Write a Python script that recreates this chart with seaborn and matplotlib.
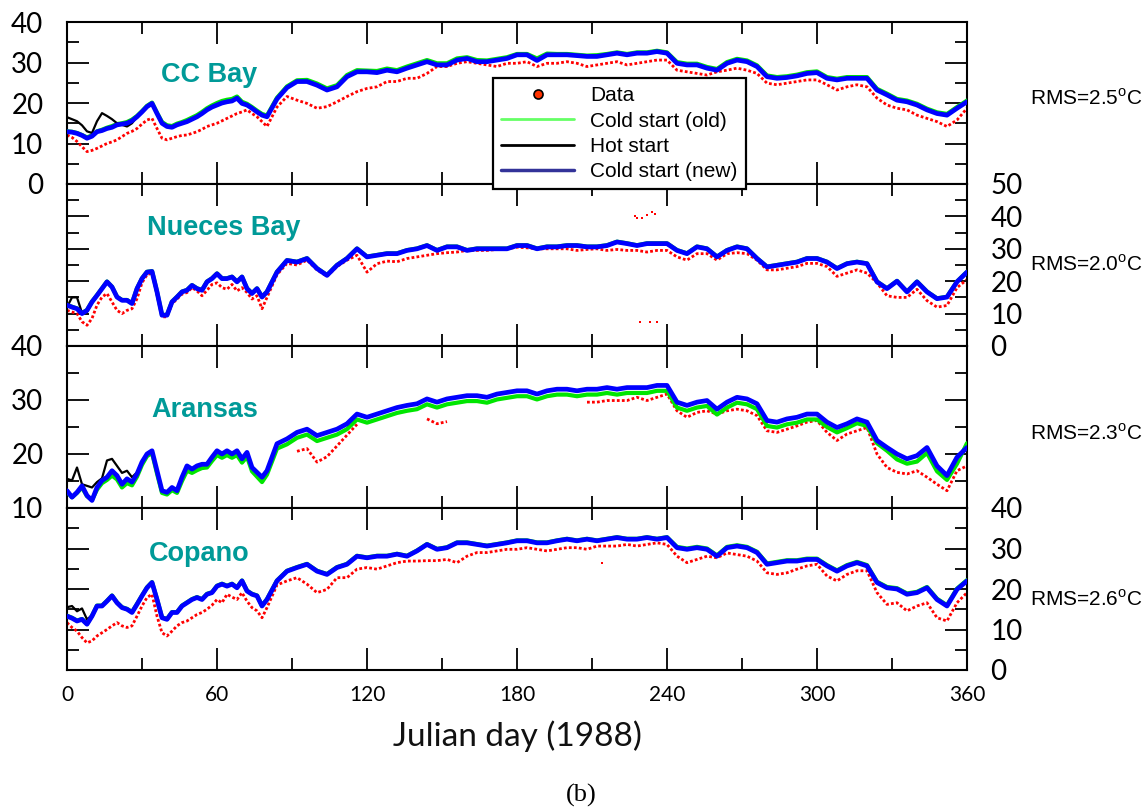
import numpy as np
import pandas as pd
import matplotlib
matplotlib.use("Agg")
import matplotlib.pyplot as plt
from matplotlib.lines import Line2D
from matplotlib.ticker import MultipleLocator
import seaborn as sns

NA = np.nan

# ---------------- data ----------------
DAYS = list(range(0, 81, 2)) + list(range(84, 361, 4))
HOT_DAYS = list(range(0, 41, 2))

PANELS = ["CC Bay", "Nueces Bay", "Aransas", "Copano"]
RMS = ["2.5", "2.0", "2.3", "2.6"]
LEGEND_LABELS = ["Data", "Cold start (old)", "Hot start", "Cold start (new)"]
X_TICKS = [0, 60, 120, 180, 240, 300, 360]

# CC Bay
CC_NEW = [12.9, 12.8, 12.5, 12.0, 11.3, 11.8, 12.9, 13.2, 13.7, 14.0,
          14.6, 14.8, 15.0, 15.6, 16.6, 17.8, 19.1, 19.9, 17.4, 15.0,
          14.2, 14.0, 14.6, 15.0, 15.4, 16.0, 16.6, 17.4, 18.3, 19.0,
          19.5, 20.0, 20.3, 20.5, 21.2, 19.9, 19.5, 18.7, 17.8, 17.0,
          16.6] + \
         [21.0, 23.8, 25.3, 25.3, 24.4, 23.2, 24.0, 26.5, 27.7, 27.7,
          27.5, 28.1, 27.7, 28.6, 29.4, 30.2, 29.4, 29.4, 30.6, 31.0,
          30.2, 30.2, 30.6, 31.0, 31.9, 31.9, 30.5, 31.9, 31.9, 31.9,
          31.7, 31.5, 31.5, 31.9, 32.3, 31.9, 32.3, 32.3, 32.7, 32.3,
          29.8, 29.4, 29.4, 28.6, 28.1, 29.8, 30.6, 30.2, 29.0, 26.5,
          26.1, 26.3, 26.7, 27.3, 27.5, 26.1, 25.7, 26.1, 26.1, 26.1,
          23.2, 22.0, 20.7, 20.3, 19.5, 18.3, 17.4, 17.0, 18.7, 20.3]
CC_OLD = [13.0, 12.9, 12.6, 12.1, 11.5, 12.0, 13.0, 13.4, 13.9, 14.3,
          14.8, 15.0, 15.3, 15.9, 16.8, 18.0, 19.3, 20.1, 17.6, 15.3,
          14.5, 14.3, 14.9, 15.3, 15.8, 16.4, 17.0, 17.8, 18.7, 19.4,
          20.0, 20.5, 20.8, 21.0, 21.6, 20.3, 19.8, 19.0, 18.1, 17.3,
          16.9] + \
         [21.3, 24.1, 25.6, 25.7, 24.8, 23.6, 24.4, 26.9, 28.1, 28.0,
          27.9, 28.5, 28.1, 29.0, 29.8, 30.6, 29.8, 29.8, 31.0, 31.3,
          30.6, 30.5, 30.9, 31.3, 32.1, 32.1, 31.0, 32.2, 32.1, 32.1,
          31.9, 31.7, 31.8, 32.1, 32.5, 32.1, 32.5, 32.5, 32.9, 32.5,
          30.1, 29.7, 29.7, 28.9, 28.4, 30.1, 30.9, 30.5, 29.3, 26.8,
          26.4, 26.6, 27.0, 27.6, 27.8, 26.4, 26.0, 26.4, 26.4, 26.4,
          23.5, 22.3, 21.0, 20.6, 19.8, 18.6, 17.7, 17.3, 19.0, 20.6]
CC_DATA = [12.1, 11.5, 10.5, 9.2, 8.0, 8.3, 8.8, 9.4, 10.0, 10.4,
           10.9, 11.7, 12.5, 13.0, 13.7, 14.8, 15.8, 16.2, 13.7, 11.3,
           10.9, 11.3, 11.7, 12.0, 12.1, 12.5, 12.9, 13.5, 14.2, 14.6,
           15.0, 15.6, 16.2, 16.8, 17.4, 17.8, 18.3, 17.4, 16.6, 15.4,
           14.2] + \
          [19.0, 21.6, 20.7, 19.9, 18.7, 19.1, 20.3, 21.6, 22.8, 23.6,
           24.0, 25.3, 25.3, 26.1, 26.1, 27.3, 29.0, 29.0, 29.8, 30.2,
           29.8, 29.4, 29.0, 29.8, 29.8, 30.2, 29.0, 29.8, 29.8, 30.2,
           29.8, 29.0, 29.4, 29.8, 30.2, 29.4, 29.8, 30.2, 30.6, 30.6,
           28.1, 27.7, 27.3, 26.9, 27.7, 28.1, 28.6, 28.1, 27.3, 24.9,
           24.5, 24.9, 25.3, 25.7, 25.7, 24.5, 23.2, 24.0, 24.5, 24.0,
           21.2, 19.5, 18.7, 18.3, 17.0, 16.2, 15.4, 14.2, 15.8, 18.7]
CC_HOT = [16.5, 16.0, 15.5, 14.5, 13.0, 12.6, 15.5, 17.5, 16.8, 16.0,
          15.0, 14.6, 14.2, 15.0, 16.6, 17.8, 19.1, 19.9, 17.4, 15.0,
          14.2]

# Nueces Bay
NU_NEW = [12.6, 12.0, 11.5, 10.0, 11.0, 13.6, 15.6, 17.7, 19.8, 18.2,
          15.1, 14.1, 14.1, 13.1, 17.7, 20.8, 22.8, 23.0, 16.7, 9.5,
          9.5, 13.6, 15.1, 16.7, 17.2, 18.7, 17.7, 17.2, 19.8, 20.8,
          22.3, 20.8, 20.8, 21.3, 19.8, 21.3, 17.7, 16.2, 17.7, 15.1,
          16.7] + \
         [22.8, 26.4, 25.9, 27.0, 23.9, 21.8, 24.9, 27.0, 30.0, 27.5,
          28.0, 28.5, 28.5, 29.5, 30.0, 31.0, 29.5, 30.6, 30.6, 29.5,
          30.0, 30.0, 30.0, 30.0, 31.0, 31.0, 30.0, 30.6, 30.6, 31.0,
          31.0, 30.6, 30.6, 31.0, 32.1, 31.6, 31.0, 31.6, 31.6, 31.6,
          29.5, 28.5, 30.6, 30.0, 27.5, 29.5, 30.6, 30.0, 27.0, 24.4,
          24.9, 25.4, 25.9, 27.0, 27.0, 25.9, 23.9, 25.4, 25.9, 25.4,
          19.8, 17.7, 20.0, 16.7, 19.8, 16.7, 14.6, 15.1, 19.8, 22.8]
NU_OLD = [12.7, 12.1, 11.6, 10.2, 11.1, 13.7, 15.7, 17.8, 19.9, 18.3,
          15.2, 14.2, 14.2, 13.2, 17.8, 20.9, 22.9, 23.1, 16.8, 9.6,
          9.6, 13.7, 15.2, 16.8, 17.3, 18.8, 17.8, 17.3, 19.9, 20.9,
          22.4, 20.9, 20.9, 21.4, 19.9, 21.4, 17.8, 16.3, 17.8, 15.2,
          16.8] + \
         [22.9, 26.5, 26.0, 27.1, 24.0, 21.9, 25.0, 27.1, 30.1, 27.6,
          28.1, 28.6, 28.6, 29.6, 30.1, 31.1, 29.6, 30.7, 30.7, 29.6,
          30.1, 30.1, 30.1, 30.1, 31.1, 31.1, 30.1, 30.7, 30.7, 31.1,
          31.1, 30.7, 30.7, 31.1, 32.2, 31.7, 31.1, 31.7, 31.7, 31.7,
          29.6, 28.6, 30.7, 30.1, 27.6, 29.6, 30.7, 30.1, 27.1, 24.5,
          25.0, 25.5, 26.0, 27.1, 27.1, 26.0, 24.0, 25.5, 26.0, 25.5,
          19.9, 17.8, 20.1, 16.8, 19.9, 16.8, 14.7, 15.2, 19.9, 22.9]
NU_DATA = [11.0, 10.5, 10.0, 7.5, 6.4, 8.5, 12.6, 15.1, 16.2, 13.6,
           11.0, 10.0, 11.0, 11.5, 14.6, 19.5, 22.0, 22.5, 16.0, 9.0,
           9.0, 13.0, 14.5, 16.0, 16.5, 18.0, 17.0, 15.5, 17.2, 19.0,
           19.5, 18.0, 17.5, 19.0, 17.0, 18.0, 16.5, 14.5, 15.5, 11.5,
           15.0] + \
          [22.0, 25.5, 25.0, 26.5, 23.5, 21.5, 24.5, 26.5, 28.0, 22.8,
           25.4, 26.2, 26.0, 27.0, 27.5, 28.0, 28.5, 28.8, 29.0, 29.5,
           29.5, 29.5, 29.8, 30.0, 30.5, 30.3, 30.0, 30.0, 30.0, 30.0,
           29.5, 29.8, 30.0, 29.5, 29.8, 29.5, 29.5, 29.0, 29.5, 29.5,
           27.5, 26.5, 28.5, 28.5, 26.5, 28.5, 28.8, 28.5, 26.5, 23.5,
           23.5, 24.0, 24.5, 25.5, 25.5, 24.5, 21.5, 22.5, 23.5, 22.5,
           19.5, 15.5, 15.0, 15.0, 17.5, 14.0, 12.0, 12.5, 18.0, 20.5]
NU_HOT = [12.0, 15.0, 15.0, 10.2, 10.5, 13.6, 15.6, 17.7, 19.8, 18.2,
          15.1, 14.1, 14.1, 13.1, 17.7, 20.8, 22.8, 23.0, 16.7, 9.5,
          9.5]
NU_OUT_DAYS = [227, 228, 230, 232, 234, 235, 229, 233, 236]
NU_OUT_VALS = [40.1, 39.5, 39.5, 40.4, 41.4, 40.7, 7.4, 7.4, 7.4]

# Aransas
AR_NEW = [13.2, 12.0, 12.9, 14.1, 12.3, 11.4, 13.8, 15.1, 15.7, 16.9,
          16.0, 14.4, 15.4, 14.8, 16.3, 18.5, 20.0, 20.6, 16.9, 13.2,
          12.9, 13.8, 13.2, 15.7, 17.8, 17.2, 17.8, 18.1, 18.1, 19.4,
          20.6, 20.0, 20.6, 20.0, 20.6, 19.1, 20.3, 17.5, 16.6, 15.7,
          16.9] + \
         [21.9, 22.8, 24.0, 24.6, 23.4, 24.0, 24.6, 25.6, 27.4, 26.8,
          27.4, 28.0, 28.6, 29.0, 29.3, 30.2, 29.6, 30.2, 30.5, 30.8,
          30.8, 30.5, 31.1, 31.4, 31.7, 31.7, 31.1, 31.7, 32.0, 32.0,
          31.7, 32.0, 32.0, 32.3, 32.0, 32.3, 32.3, 32.3, 32.7, 32.7,
          29.6, 29.0, 29.6, 29.9, 28.3, 29.6, 30.5, 30.2, 29.3, 26.2,
          25.9, 26.5, 26.8, 27.4, 27.4, 25.9, 24.9, 25.6, 26.5, 25.9,
          22.5, 21.2, 20.0, 19.1, 19.7, 21.2, 17.8, 16.0, 19.4, 21.2]
AR_OLD = [13.0, 12.0, 12.8, 13.8, 12.2, 11.5, 13.4, 14.6, 15.2, 16.0,
          15.3, 13.8, 14.6, 14.2, 15.8, 18.0, 19.6, 20.2, 16.4, 12.8,
          12.5, 13.3, 12.8, 15.0, 16.9, 16.5, 17.0, 17.4, 17.5, 18.7,
          19.8, 19.3, 19.8, 19.3, 19.8, 18.4, 19.5, 16.8, 15.8, 14.8,
          16.2] + \
         [21.0, 21.8, 23.0, 23.6, 22.4, 23.0, 23.6, 24.6, 26.4, 25.8,
          26.4, 27.0, 27.6, 28.0, 28.3, 29.2, 28.6, 29.2, 29.5, 29.8,
          29.8, 29.5, 30.1, 30.4, 30.7, 30.7, 30.1, 30.7, 31.0, 31.0,
          30.7, 31.0, 31.0, 31.3, 31.0, 31.3, 31.3, 31.3, 31.7, 31.7,
          28.6, 28.0, 28.6, 28.9, 27.3, 28.6, 29.5, 29.2, 28.3, 25.2,
          24.9, 25.5, 25.8, 26.4, 26.4, 25.0, 24.0, 24.8, 25.7, 25.2,
          22.0, 20.6, 19.0, 18.2, 18.6, 20.2, 16.8, 15.2, 18.2, 22.0]
AR_DATA = [NA] * 41 + \
          [NA, NA, 20.5, 21.0, 18.5, 19.5, 21.5, 23.5, 25.5, NA,
           NA, NA, NA, NA, NA, 26.5, 25.6, 26.0, NA, NA,
           NA, NA, NA, NA, NA, NA, NA, NA, NA, NA,
           NA, 29.6, 29.6, 29.9, 29.9, 29.9, 30.5, 29.9, 30.5, 31.1,
           28.0, 26.8, 27.7, 28.0, 27.4, 28.0, 28.3, 28.0, 27.1, 24.3,
           24.0, 24.6, 25.2, 25.9, 26.2, 24.0, 22.5, 23.7, 24.3, 24.9,
           20.0, 17.5, 16.6, 16.3, 16.9, 15.7, 14.4, 13.2, 16.9, 17.8]
AR_HOT = [15.4, 15.1, 17.5, 14.4, 14.1, 13.8, 14.8, 15.5, 18.8, 19.1,
          17.8, 16.5, 16.9, 15.7, 16.6, 18.5, 20.0, 20.6, 16.9, 13.2,
          12.9]

# Copano
CO_NEW = [13.3, 12.8, 12.1, 12.5, 11.3, 13.3, 15.8, 15.8, 17.0, 18.3,
          16.6, 15.4, 15.0, 14.2, 16.2, 18.3, 20.3, 21.6, 17.4, 12.9,
          12.5, 14.2, 14.2, 15.8, 16.6, 17.4, 17.9, 17.4, 18.7, 19.1,
          20.7, 21.2, 20.7, 21.2, 20.3, 22.0, 19.5, 18.7, 18.3, 15.8,
          17.4] + \
         [22.0, 24.4, 25.3, 26.1, 24.4, 23.6, 25.3, 26.1, 28.1, 27.7,
          28.1, 28.1, 28.6, 28.1, 29.4, 31.0, 29.8, 30.2, 31.4, 31.4,
          31.0, 30.6, 31.0, 31.4, 31.9, 31.9, 31.4, 31.4, 31.9, 32.3,
          31.9, 32.3, 31.9, 32.3, 32.7, 32.3, 32.3, 32.7, 32.3, 32.7,
          30.2, 29.8, 30.2, 29.8, 28.1, 30.2, 30.6, 30.2, 29.0, 26.1,
          26.5, 26.9, 26.9, 27.3, 27.3, 25.7, 24.4, 25.7, 26.5, 25.7,
          21.6, 20.3, 20.0, 18.7, 19.1, 20.3, 17.4, 15.8, 19.9, 22.0]
CO_OLD = [13.4, 12.9, 12.2, 12.6, 11.4, 13.4, 15.9, 15.9, 17.1, 18.4,
          16.7, 15.5, 15.1, 14.3, 16.3, 18.4, 20.4, 21.7, 17.5, 13.0,
          12.6, 14.3, 14.3, 15.9, 16.7, 17.5, 18.0, 17.5, 18.8, 19.2,
          20.8, 21.3, 20.8, 21.3, 20.4, 22.1, 19.6, 18.8, 18.4, 15.9,
          17.5] + \
         [22.1, 24.5, 25.4, 26.2, 24.5, 23.7, 25.4, 26.2, 28.2, 27.8,
          28.2, 28.2, 28.7, 28.2, 29.5, 31.1, 29.9, 30.3, 31.5, 31.5,
          31.1, 30.7, 31.1, 31.5, 32.0, 32.0, 31.5, 31.5, 32.0, 32.4,
          32.0, 32.4, 32.0, 32.4, 32.8, 32.4, 32.4, 32.8, 32.4, 32.8,
          30.4, 30.0, 30.4, 30.0, 28.3, 30.4, 30.8, 30.4, 29.2, 26.3,
          26.7, 27.1, 27.1, 27.5, 27.5, 25.9, 24.6, 25.9, 26.7, 25.9,
          21.8, 20.5, 20.2, 18.9, 19.3, 20.5, 17.6, 16.0, 20.1, 22.2]
CO_DATA = [11.7, 10.5, 9.6, 8.0, 6.7, 7.2, 8.4, 9.2, 10.0, 10.9,
           11.7, 10.9, 10.5, 10.9, 13.3, 15.8, 17.9, 18.7, 13.3, 9.2,
           8.4, 9.6, 10.9, 11.7, 12.1, 12.9, 13.7, 14.2, 15.0, 16.0,
           17.4, 16.6, 18.7, 18.0, 17.4, 19.1, 17.0, 15.4, 14.6, 12.9,
           15.4] + \
          [21.0, 22.0, 22.8, 21.2, 19.1, 19.9, 22.8, 22.8, 24.9, 25.3,
           24.9, 25.7, 26.5, 26.9, 26.9, 27.0, 27.0, 27.3, 26.5, 28.1,
           29.0, 29.0, 29.4, 29.8, 29.8, 30.2, 29.8, 29.4, 29.8, 30.2,
           30.2, 29.8, 30.6, 30.6, 30.6, 31.0, 30.6, 31.0, 31.4, 31.0,
           28.1, 26.5, 27.3, 28.1, 27.7, 28.9, 28.5, 28.1, 26.9, 24.0,
           23.6, 24.0, 24.9, 25.7, 26.1, 23.2, 22.0, 23.6, 24.5, 24.5,
           19.1, 16.2, 16.6, 14.6, 15.8, 16.6, 12.9, 12.1, 16.6, 19.1]
CO_HOT = [15.5, 15.8, 14.5, 15.2, 12.5, 13.5, 15.8, 15.8, 17.0, 18.3,
          16.6, 15.4, 15.0, 14.2, 16.2, 18.3, 20.3, 21.6, 17.4, 12.9,
          12.5]
CO_OUT_DAYS = [214]
CO_OUT_VALS = [26.5]

SERIES = [
    (CC_DATA, CC_OLD, CC_HOT, CC_NEW, [], []),
    (NU_DATA, NU_OLD, NU_HOT, NU_NEW, NU_OUT_DAYS, NU_OUT_VALS),
    (AR_DATA, AR_OLD, AR_HOT, AR_NEW, [], []),
    (CO_DATA, CO_OLD, CO_HOT, CO_NEW, CO_OUT_DAYS, CO_OUT_VALS),
]
YRANGES = [(0, 40), (0, 50), (10, 40), (0, 40)]
LABEL_RIGHT = [False, True, False, True]

# ---------------- style ----------------
sns.set_style("ticks")
plt.rcParams["font.family"] = ["Liberation Sans", "DejaVu Sans"]
plt.rcParams["mathtext.fontset"] = "custom"
plt.rcParams["mathtext.rm"] = "Liberation Sans"
plt.rcParams["axes.linewidth"] = 1.5
plt.rcParams["axes.edgecolor"] = "black"
plt.rcParams["text.color"] = "black"
plt.rcParams["xtick.color"] = "black"
plt.rcParams["ytick.color"] = "black"
plt.rcParams["xtick.labelcolor"] = "black"
plt.rcParams["ytick.labelcolor"] = "black"

RED = "#ff0000"
GREEN = "#00e600"
BLUE = "#0000ff"
TEAL = "#009a98"
TICKFONT = dict(family=["Lato", "DejaVu Sans"], fontweight="normal", color="#111111")

W, H = 1146, 810
fig = plt.figure(figsize=(W / 100, H / 100), dpi=100)
fig.patch.set_facecolor("white")

LEFT_PX, RIGHT_PX = 67, 967
TOPS = [22, 184, 346, 508]
PH = 162


def draw(ax, x, y, color, lw, ls="-", z=2):
    df = pd.DataFrame({"day": x, "temp": y})
    df["seg"] = df["temp"].isna().cumsum()
    df = df.dropna()
    sns.lineplot(data=df, x="day", y="temp", units="seg", estimator=None,
                 sort=False, color=color, lw=lw, linestyle=ls, ax=ax,
                 zorder=z, legend=False)


label_pos = [(0.1044, 0.63), (0.0889, 0.685), (0.0933, 0.562), (0.091, 0.673)]
rms_base = [105, 271, 440, 606]

axes = []
for i in range(4):
    top = TOPS[i]
    ax = fig.add_axes([LEFT_PX / W, 1 - (top + PH) / H, (RIGHT_PX - LEFT_PX) / W, PH / H])
    axes.append(ax)
    data, old, hot, new, od, ov = SERIES[i]
    draw(ax, DAYS, data, RED, 2.0, ls=(0, (1, 0.8)), z=2)
    draw(ax, DAYS, old, GREEN, 3.0, z=3)
    draw(ax, HOT_DAYS, hot, "black", 1.6, z=4)
    draw(ax, DAYS, new, BLUE, 3.4, z=5)
    if od:
        sns.scatterplot(x=od, y=ov, color=RED, s=4, marker="s", linewidth=0,
                        ax=ax, zorder=2, legend=False)

    y0, y1 = YRANGES[i]
    ax.set_xlim(0, 360)
    ax.set_ylim(y0, y1)
    yt = list(range(y0, y1 + 1, 10))
    ax.set_yticks(yt, [str(v) for v in yt], fontsize=20, **TICKFONT)
    ax.yaxis.set_minor_locator(MultipleLocator(5))
    ax.set_xticks(X_TICKS, [str(v) for v in X_TICKS], fontsize=15, **TICKFONT)
    ax.xaxis.set_minor_locator(MultipleLocator(30))
    ax.tick_params(which="both", direction="in", top=True, bottom=True,
                   left=True, right=True, width=1.3, colors="black")
    ax.tick_params(which="major", length=16)
    ax.tick_params(which="minor", length=8.5)
    ax.tick_params(axis="y", pad=17, labelleft=not LABEL_RIGHT[i],
                   labelright=LABEL_RIGHT[i])
    ax.tick_params(axis="x", pad=11, labelbottom=(i == 3))
    ax.set_xlabel("")
    ax.set_ylabel("")
    for s in ax.spines.values():
        s.set_visible(True)
        s.set_linewidth(1.5)
    ax.set_facecolor("white")

    lx, ly = label_pos[i]
    ax.text(lx, ly, PANELS[i], transform=ax.transAxes, color=TEAL,
            fontsize=19.5, fontweight="bold", ha="left", va="baseline", zorder=10)
    fig.text(1030 / W, 1 - rms_base[i] / H, "RMS=" + RMS[i] + r"$^{\mathrm{o}}$C",
             fontsize=15, ha="left", va="baseline", color="black")

axes[3].set_xlabel("Julian day (1988)", fontsize=24, labelpad=11, **TICKFONT)

fig.text(581 / W, 1 - 795 / H, "(b)", fontsize=19, color="black",
         family=["Liberation Serif", "DejaVu Serif"], ha="center", va="center")

handles = [
    Line2D([], [], marker="o", linestyle="none", markerfacecolor="#ff3300",
           markeredgecolor="black", markersize=6.5, markeredgewidth=1.2),
    Line2D([], [], color="#66ff66", lw=2),
    Line2D([], [], color="black", lw=2),
    Line2D([], [], color="#333399", lw=2.5),
]
leg = fig.legend(handles, LEGEND_LABELS, loc="upper left",
                 bbox_to_anchor=(493 / W, 1 - 78 / H), borderaxespad=0,
                 frameon=True, fancybox=False, shadow=False, fontsize=15,
                 handlelength=3.5, handletextpad=0.75, labelspacing=0.3,
                 borderpad=0.4)
leg.get_frame().set_edgecolor("black")
leg.get_frame().set_linewidth(1.6)
leg.get_frame().set_alpha(1)
leg.set_zorder(20)
for t in leg.get_texts():
    t.set_color("black")

fig.savefig("out.png", dpi=100, facecolor="white")
